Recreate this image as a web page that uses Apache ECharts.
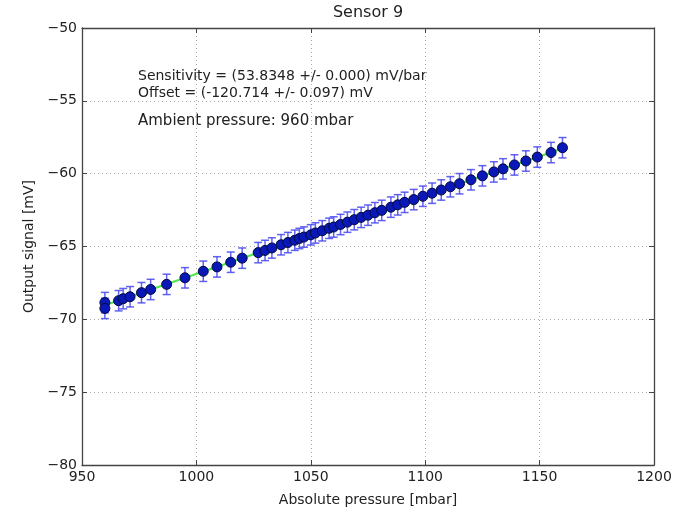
<!DOCTYPE html>
<html>
<head>
<meta charset="utf-8">
<script src="https://cdn.jsdelivr.net/npm/echarts@6/dist/echarts.min.js"></script>
<style>
  html, body { margin: 0; padding: 0; background: #fff; }
  #chart { width: 689px; height: 512px; }
</style>
</head>
<body>
<div id="chart"></div>
<script>
// pressure readings [mbar] and output signal [mV]
const pressure = [960, 960, 966, 968, 971, 976, 980, 987, 995, 1003, 1009, 1015, 1020, 1027, 1030, 1033, 1037, 1040, 1043, 1045, 1047, 1050, 1052, 1055, 1058, 1060, 1063, 1066, 1069, 1072, 1075, 1078, 1081, 1085, 1088, 1091, 1095, 1099, 1103, 1107, 1111, 1115, 1120, 1125, 1130, 1134, 1139, 1144, 1149, 1155, 1160]
const signal = [-68.85, -69.25, -68.72, -68.58, -68.45, -68.17, -67.95, -67.6, -67.15, -66.7, -66.4, -66.08, -65.8, -65.42, -65.27, -65.1, -64.88, -64.73, -64.57, -64.45, -64.35, -64.2, -64.07, -63.92, -63.75, -63.66, -63.49, -63.33, -63.16, -63.0, -62.85, -62.68, -62.52, -62.3, -62.14, -61.97, -61.78, -61.55, -61.34, -61.12, -60.9, -60.69, -60.42, -60.15, -59.88, -59.67, -59.4, -59.13, -58.86, -58.55, -58.22]
const errorBar = 0.7
// fitted line end points
const fitPressure = [960, 1160]
const fitSignal = [-69.03, -58.27]

const FONT = 'DejaVu Sans'
const TEXT = '#222'
const AXIS = '#444'

const scatterData = pressure.map((p, i) => [p, signal[i]])
const errorData = pressure.map((p, i) => [p, signal[i] - errorBar, signal[i] + errorBar])
const fitData = fitPressure.map((p, i) => [p, fitSignal[i]])

const minusFmt = v => String(v).replace('-', '\u2212')

const chart = echarts.init(document.getElementById('chart'), null, { renderer: 'canvas' })

const baseAxis = {
  axisLine: { show: true, onZero: false, lineStyle: { color: AXIS, width: 1.3 } },
  axisTick: { show: true, inside: true, length: 5, lineStyle: { color: AXIS } },
  splitLine: { show: true, lineStyle: { color: '#aaa', type: [1, 3] } },
}

chart.setOption({
  animation: false,
  backgroundColor: '#fff',
  grid: { left: 82, right: 35, top: 28, bottom: 46 },
  xAxis: [
    {
      ...baseAxis,
      type: 'value',
      min: 950, max: 1200, interval: 50,
      name: 'Absolute pressure [mbar]',
      nameLocation: 'middle',
      nameGap: 28,
      nameTextStyle: { fontFamily: FONT, fontSize: 14, color: TEXT },
      axisLabel: { fontFamily: FONT, fontSize: 14, color: TEXT, margin: 5, formatter: v => String(v) },
    },
    {
      ...baseAxis,
      type: 'value', position: 'top',
      min: 950, max: 1200, interval: 50,
      axisLabel: { show: false },
      splitLine: { show: false },
    },
  ],
  yAxis: [
    {
      ...baseAxis,
      type: 'value',
      min: -80, max: -50, interval: 5,
      name: 'Output signal [mV]',
      nameLocation: 'middle',
      nameGap: 41,
      nameTextStyle: { fontFamily: FONT, fontSize: 14, color: TEXT },
      axisLabel: { fontFamily: FONT, fontSize: 14, color: TEXT, margin: 5, formatter: minusFmt },
    },
    {
      ...baseAxis,
      type: 'value', position: 'right',
      min: -80, max: -50, interval: 5,
      axisLabel: { show: false },
      splitLine: { show: false },
    },
  ],
  graphic: [
    {
      type: 'text', x: 368, y: 5,
      style: {
        text: 'Sensor 9', textAlign: 'center',
        font: '16px "DejaVu Sans", sans-serif', fill: TEXT,
      },
    },
    {
      type: 'text', left: 138, top: 68,
      style: {
        text: 'Sensitivity = (53.8348 +/- 0.000) mV/bar\nOffset = (-120.714 +/- 0.097) mV',
        font: '14px "DejaVu Sans", sans-serif', fill: TEXT, lineHeight: 17,
      },
    },
    {
      type: 'text', left: 138, top: 114,
      style: {
        text: 'Ambient pressure: 960 mbar',
        font: '15px "DejaVu Sans", sans-serif', fill: TEXT,
      },
    },
  ],
  series: [
    {
      type: 'line',
      data: fitData,
      symbol: 'none',
      lineStyle: { color: '#4ee84e', width: 2 },
      z: 2,
    },
    {
      type: 'custom',
      data: errorData,
      z: 3,
      renderItem: (params, api) => {
        const x = api.value(0)
        const lo = api.coord([x, api.value(1)])
        const hi = api.coord([x, api.value(2)])
        const cap = 4
        const style = { stroke: 'rgba(70,70,240,0.85)', lineWidth: 1.5 }
        return {
          type: 'group',
          children: [
            { type: 'line', shape: { x1: lo[0], y1: lo[1], x2: hi[0], y2: hi[1] }, style },
            { type: 'line', shape: { x1: lo[0] - cap, y1: lo[1], x2: lo[0] + cap, y2: lo[1] }, style },
            { type: 'line', shape: { x1: hi[0] - cap, y1: hi[1], x2: hi[0] + cap, y2: hi[1] }, style },
          ],
        }
      },
    },
    {
      type: 'scatter',
      data: scatterData,
      symbol: 'circle',
      symbolSize: 10,
      itemStyle: { color: '#0a18b8', borderColor: '#000a3a', borderWidth: 1, opacity: 1 },
      z: 4,
    },
  ],
})
</script>
</body>
</html>
